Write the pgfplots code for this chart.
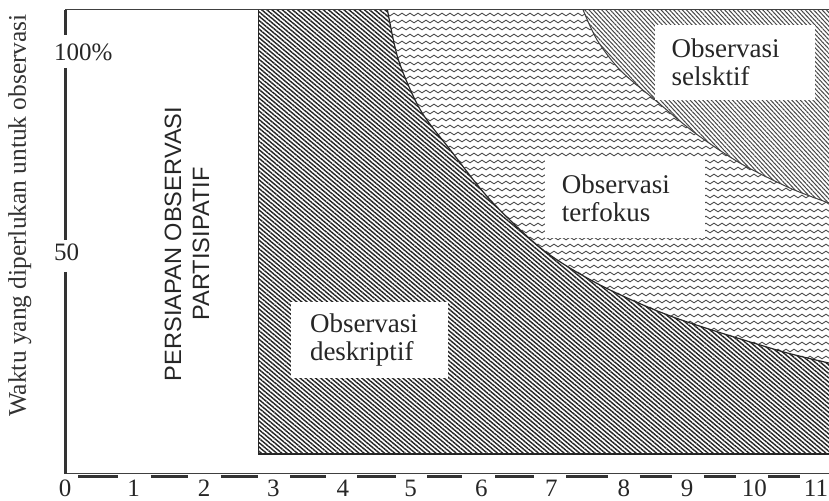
\documentclass[border=0pt]{standalone}
\usepackage{fontspec}
\setmainfont{Liberation Serif}
\setsansfont{Liberation Sans}
\usepackage{pgfplots}
\pgfplotsset{compat=1.18}
\usepgfplotslibrary{fillbetween}
\usetikzlibrary{patterns,patterns.meta}

\tikzdeclarepattern{
  name=wavy,
  type=uncolored,
  bounding box={(-0.5pt,-0.5pt) and (4.5pt,4pt)},
  tile size={(4pt,3.5pt)},
  code={
    \draw[line width=0.45pt] (0pt,1.75pt) sin (1pt,2.4pt) cos (2pt,1.75pt) sin (3pt,1.1pt) cos (4pt,1.75pt);
  }
}

\begin{document}
\begin{tikzpicture}
\begin{axis}[
  at={(0,0)}, anchor=south west,
  scale only axis,
  width=382pt, height=232pt,
  xmin=0, xmax=11.14, ymin=-5.5, ymax=110.5,
  axis line style={draw=none},
  major tick length=0pt,
  xtick={0,1,2.03,3.04,4.05,5.04,6.07,7.09,8.15,9.07,10.05,10.95},
  xticklabels={0,1,2,3,4,5,6,7,8,9,10,11},
  ytick={50,100},
  yticklabels={50,100\%},
  tick label style={font=\fontsize{12.5}{14}\selectfont, text=black!85},
  xticklabel style={anchor=center, yshift=-7pt},
  yticklabel style={anchor=west, xshift=-9pt},
  clip mode=individual,
  ylabel={Waktu yang diperlukan untuk observasi},
  ylabel style={at={(axis description cs:-0.059,0.557)}, anchor=center, font=\fontsize{12.7}{14}\selectfont, text=black!80},
]
% descriptive region
\addplot[name path=D0, draw=none] coordinates {(2.82,-0.5) (11.3,-0.5)};
\addplot[name path=D1, draw=none] coordinates {(2.82,111) (11.3,111)};
\addplot[draw=none, pattern={Lines[angle=-40,distance=1.65pt,line width=0.72pt]}, pattern color=black!85] fill between[of=D0 and D1];
% focused region
\addplot[name path=A, draw=none, smooth] coordinates {
  (4.702,110.5) (4.862,98) (5.182,85.5) (5.619,75.5) (6.201,63) (6.972,50.5)
  (7.802,41.75) (8.865,33.75) (10.378,25.5) (11.135,22.25) (11.295,21.5)};
\addplot[name path=TA, draw=none] coordinates {(4.702,111) (11.295,111)};
\addplot[fill=white, draw=none] fill between[of=A and TA];
\addplot[draw=none, pattern=wavy, pattern color=black!70] fill between[of=A and TA];
% selective region
\addplot[name path=B, draw=none, smooth] coordinates {
  (7.555,110.5) (7.758,103) (8.093,95.5) (8.603,88) (9.185,79.75)
  (9.840,72.25) (10.568,66) (11.135,62.25) (11.295,61.25)};
\addplot[name path=TB, draw=none] coordinates {(7.555,111) (11.295,111)};
\addplot[fill=white, draw=none] fill between[of=B and TB];
\addplot[draw=none, pattern={Lines[angle=-47,distance=1.55pt,line width=0.5pt]}, pattern color=black!72] fill between[of=B and TB];
% outlines
\addplot[black!85, line width=0.6pt, smooth] coordinates {
  (4.702,110.5) (4.862,98) (5.182,85.5) (5.619,75.5) (6.201,63) (6.972,50.5)
  (7.802,41.75) (8.865,33.75) (10.378,25.5) (11.135,22.25) (11.295,21.5)};
\addplot[black!75, line width=0.5pt, smooth] coordinates {
  (7.555,110.5) (7.758,103) (8.093,95.5) (8.603,88) (9.185,79.75)
  (9.840,72.25) (10.568,66) (11.135,62.25) (11.295,61.25)};
\addplot[black!85, line width=0.6pt] coordinates {(2.82,111) (2.82,-0.5) (11.3,-0.5)};
% labels
\node[fill=white, inner xsep=9.5pt, inner ysep=0pt, text width=59.5pt, minimum height=38pt, align=left, font=\fontsize{13.5}{14}\selectfont, text=black!85] at (axis cs:4.44,28) {Observasi\\deskriptif};
\node[fill=white, inner xsep=8.5pt, inner ysep=0pt, text width=63pt, minimum height=40pt, align=left, font=\fontsize{13.5}{14}\selectfont, text=black!85] at (axis cs:8.165,63.5) {Observasi\\terfokus};
\node[fill=white, inner xsep=8.5pt, inner ysep=0pt, text width=63pt, minimum height=37.5pt, align=left, font=\fontsize{13.5}{14}\selectfont, text=black!85] at (axis cs:9.765,97.4) {Observasi\\selsktif};
\node[rotate=90, align=center, font=\sffamily\fontsize{11.8}{14}\selectfont, text=black!85] at (axis cs:1.78,52) {PERSIAPAN OBSERVASI\\PARTISIPATIF};
% axis lines
\draw[black!75, line width=0.5pt] (axis cs:0,110.5) -- (axis cs:11.14,110.5);
\draw[black!75, line width=0.5pt] (axis cs:0,-5.5) -- (axis cs:11.14,-5.5);
\draw[black!80, line width=1.5pt] (axis cs:0,110.5) -- (axis cs:0,104.25) (axis cs:0,96) -- (axis cs:0,53) (axis cs:0,45) -- (axis cs:0,-5.5);
\draw[black!80, line width=1.5pt]
  (axis cs:0.19,-6.1) -- (axis cs:0.77,-6.1)
  (axis cs:1.25,-6.1) -- (axis cs:1.79,-6.1)
  (axis cs:2.27,-6.1) -- (axis cs:2.81,-6.1)
  (axis cs:3.28,-6.1) -- (axis cs:3.81,-6.1)
  (axis cs:4.26,-6.1) -- (axis cs:4.82,-6.1)
  (axis cs:5.28,-6.1) -- (axis cs:5.79,-6.1)
  (axis cs:6.27,-6.1) -- (axis cs:6.84,-6.1)
  (axis cs:7.31,-6.1) -- (axis cs:7.92,-6.1)
  (axis cs:8.38,-6.1) -- (axis cs:8.85,-6.1)
  (axis cs:9.32,-6.1) -- (axis cs:9.78,-6.1)
  (axis cs:10.25,-6.1) -- (axis cs:10.71,-6.1);
\end{axis}
\pgfresetboundingbox
\path (-32.5pt,-13.5pt) rectangle (382pt,237pt);
\end{tikzpicture}
\end{document}
